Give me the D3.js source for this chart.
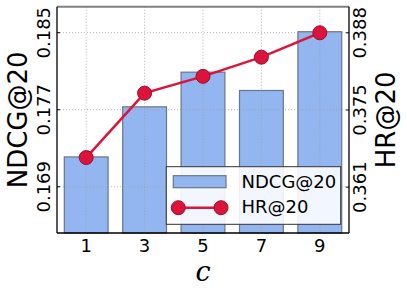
<!DOCTYPE html>
<html>
<head>
<meta charset="utf-8">
<script src="https://cdn.jsdelivr.net/npm/d3@7/dist/d3.min.js"></script>
<style>
body{margin:0;background:#fff;}
text{font-family:"DejaVu Sans",sans-serif;}
</style>
</head>
<body>
<script>
var width = 407, height = 291;

// data
var cValues = [1, 3, 5, 7, 9];
var ndcg = [0.1721, 0.1773, 0.1809, 0.1790, 0.1851];
var hr = [0.3665, 0.3776, 0.3805, 0.3838, 0.3880];
var leftTicks = [0.169, 0.177, 0.185];
var leftTickLabels = ["0.169", "0.177", "0.185"];
var rightTicks = [0.3614, 0.3747, 0.3880];
var rightTickLabels = ["0.361", "0.375", "0.388"];

var plotLeft = 57, plotRight = 349, plotTop = 6.7, plotBottom = 233;

var svg = d3.select("body")
.append("svg")
.attr("width", width)
.attr("height", height);

var x = d3.scaleLinear().domain([0, 10]).range([plotLeft, plotRight]);
var yL = d3.scaleLinear().domain([0.1642, 0.1877]).range([plotBottom, plotTop]);
var yR = d3.scaleLinear().domain([0.3535, 0.3925]).range([plotBottom, plotTop]);

var barW = x(1.5) - x(0);

// bars
svg.selectAll(".bar")
.data(ndcg)
.enter()
.append("rect")
.attr("x", function(d, i){ return x(cValues[i]) - barW / 2; })
.attr("y", function(d){ return yL(d); })
.attr("width", barW)
.attr("height", function(d){ return plotBottom - yL(d); })
.attr("fill", "#93b5f0")
.attr("stroke", "#6a7589")
.attr("stroke-width", 1.2);

// grid
var grid = svg.append("g").attr("stroke", "#a0a0a0").attr("stroke-width", 0.8).attr("stroke-dasharray", "1,2");
grid.selectAll(".gx").data(cValues).enter().append("line")
.attr("x1", function(d){ return x(d); }).attr("x2", function(d){ return x(d); })
.attr("y1", plotTop).attr("y2", plotBottom);
grid.selectAll(".gy").data(leftTicks).enter().append("line")
.attr("x1", plotLeft).attr("x2", plotRight)
.attr("y1", function(d){ return yL(d); }).attr("y2", function(d){ return yL(d); });

// HR line
var line = d3.line()
.x(function(d, i){ return x(cValues[i]); })
.y(function(d){ return yR(d); });

svg.append("path")
.datum(hr)
.attr("d", line)
.attr("fill", "none")
.attr("stroke", "#dc143c")
.attr("stroke-width", 2.5);

svg.selectAll(".pt")
.data(hr)
.enter()
.append("circle")
.attr("cx", function(d, i){ return x(cValues[i]); })
.attr("cy", function(d){ return yR(d); })
.attr("r", 7)
.attr("fill", "#dc143c")
.attr("stroke", "#9a0f2c")
.attr("stroke-width", 1);

// spines
svg.append("line").attr("x1", plotLeft).attr("x2", plotRight).attr("y1", plotTop).attr("y2", plotTop)
.attr("stroke", "#808080").attr("stroke-width", 2);
svg.append("line").attr("x1", plotLeft).attr("x2", plotLeft).attr("y1", plotTop).attr("y2", plotBottom)
.attr("stroke", "#000").attr("stroke-width", 1.3);
svg.append("line").attr("x1", plotRight).attr("x2", plotRight).attr("y1", plotTop).attr("y2", plotBottom)
.attr("stroke", "#000").attr("stroke-width", 1.3);
svg.append("line").attr("x1", plotLeft).attr("x2", plotRight).attr("y1", plotBottom).attr("y2", plotBottom)
.attr("stroke", "#000").attr("stroke-width", 1.3);

// tick marks
svg.selectAll(".tl").data(leftTicks).enter().append("line")
.attr("x1", plotLeft).attr("x2", plotLeft + 3)
.attr("y1", function(d){ return yL(d); }).attr("y2", function(d){ return yL(d); })
.attr("stroke", "#000");
svg.selectAll(".tr").data(rightTicks).enter().append("line")
.attr("x1", plotRight - 3).attr("x2", plotRight)
.attr("y1", function(d){ return yR(d); }).attr("y2", function(d){ return yR(d); })
.attr("stroke", "#000");

// tick labels
svg.selectAll(".xl").data(cValues).enter().append("text")
.attr("x", function(d){ return x(d); })
.attr("y", 252)
.attr("text-anchor", "middle")
.attr("font-size", "18px")
.text(function(d){ return d; });

svg.selectAll(".yl").data(leftTicks).enter().append("text")
.attr("transform", function(d){ return "translate(50," + yL(d) + ") rotate(-90)"; })
.attr("text-anchor", "middle")
.attr("font-size", "18px")
.text(function(d, i){ return leftTickLabels[i]; });

svg.selectAll(".yr").data(rightTicks).enter().append("text")
.attr("transform", function(d){ return "translate(365.5," + yR(d) + ") rotate(-90)"; })
.attr("text-anchor", "middle")
.attr("font-size", "18px")
.text(function(d, i){ return rightTickLabels[i]; });

// axis titles
var midY = (plotTop + plotBottom) / 2;
svg.append("text")
.attr("transform", "translate(26.5," + midY + ") rotate(-90)")
.attr("text-anchor", "middle")
.attr("font-size", "26px")
.text("NDCG@20");
svg.append("text")
.attr("transform", "translate(395," + midY + ") rotate(-90)")
.attr("text-anchor", "middle")
.attr("font-size", "26px")
.text("HR@20");
svg.append("text")
.attr("x", (plotLeft + plotRight) / 2)
.attr("y", 280.5)
.attr("text-anchor", "middle")
.attr("font-size", "27px")
.attr("font-style", "italic")
.style("font-family", "'DejaVu Serif', serif")
.text("c");

// legend
var lg = svg.append("g");
lg.append("rect")
.attr("x", 166.3).attr("y", 166.7)
.attr("width", 174.4).attr("height", 57.6)
.attr("fill", "#ffffff").attr("fill-opacity", 0.88)
.attr("stroke", "#333").attr("stroke-width", 1);
lg.append("rect")
.attr("x", 173.3).attr("y", 175.7)
.attr("width", 52.7).attr("height", 12)
.attr("fill", "#93b5f0").attr("stroke", "#6a7589").attr("stroke-width", 1.2);
lg.append("line")
.attr("x1", 178.3).attr("x2", 221).attr("y1", 207.7).attr("y2", 207.7)
.attr("stroke", "#dc143c").attr("stroke-width", 2.5);
lg.selectAll(".lc").data([178.3, 221]).enter().append("circle")
.attr("cx", function(d){ return d; }).attr("cy", 207.7).attr("r", 7)
.attr("fill", "#dc143c").attr("stroke", "#9a0f2c").attr("stroke-width", 1);
lg.append("text").attr("x", 241.5).attr("y", 187.7).attr("font-size", "18px").text("NDCG@20");
lg.append("text").attr("x", 241.5).attr("y", 212.7).attr("font-size", "18px").text("HR@20");
</script>
</body>
</html>
